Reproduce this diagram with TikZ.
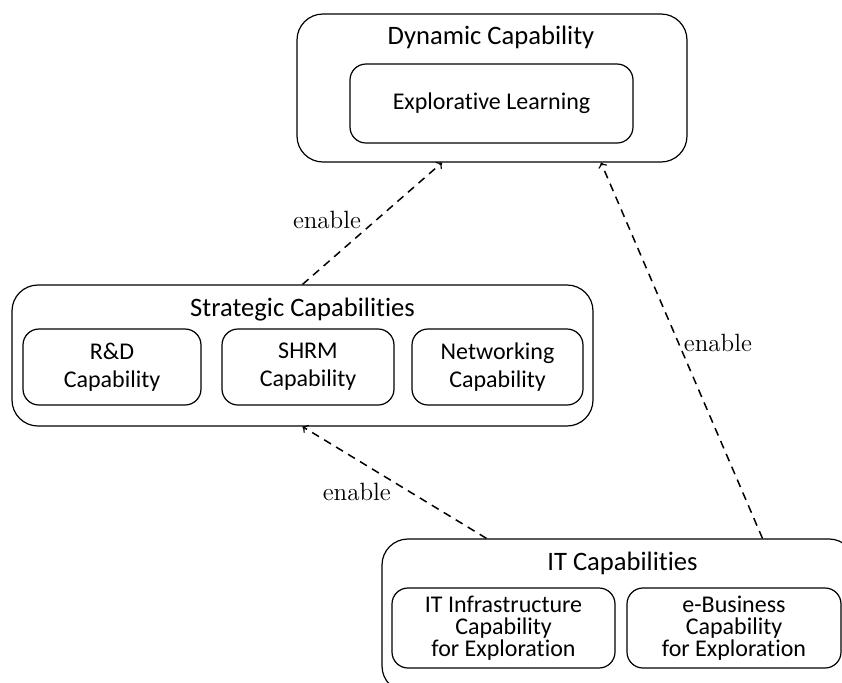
\documentclass[tikz,border=0pt]{standalone}
\usepackage{fontspec}
\newfontfamily\capfont[Ligatures=NoCommon]{Carlito}
\usetikzlibrary{arrows}

\tikzset{
  bigbox/.style={draw, line width=0.6pt, rounded corners=13pt, inner sep=0pt},
  smallbox/.style={draw, line width=0.6pt, rounded corners=8pt, align=center, inner sep=0pt, font=\capfont\fontsize{12}{14}\selectfont},
  itbox/.style={smallbox, font=\capfont\fontsize{12}{11}\selectfont},
  boxtitle/.style={font=\capfont\fontsize{13.3}{16}\selectfont},
  enablearrow/.style={->, line width=0.75pt, dash pattern=on 4pt off 3pt},
  enablelabel/.style={font=\fontsize{12.5}{15}\selectfont}
}

\begin{document}
\begin{tikzpicture}[x=0.5pt, y=-0.5pt]
  \useasboundingbox (0,0) rectangle (842,682);
  % dynamic capability
  \node[bigbox, minimum width=195pt, minimum height=74pt] (dyn) at (492,88) {};
  \node[boxtitle] (dyntitle) at (491,37) {Dynamic Capability};
  \node[smallbox, minimum width=141.5pt, minimum height=39.5pt] (explore) at (491.5,103.5) {Explorative Learning};
  % strategic capabilities
  \node[bigbox, minimum width=290.5pt, minimum height=70.5pt] (strat) at (302.5,355.5) {};
  \node[boxtitle] (strattitle) at (302.5,310) {Strategic Capabilities};
  \node[smallbox, minimum width=89pt, minimum height=38pt] (rnd) at (112,367) {R\&D\\Capability};
  \node[smallbox, minimum width=86pt, minimum height=38pt] (shrm) at (308,367) {SHRM\\Capability};
  \node[smallbox, minimum width=85.5pt, minimum height=38pt] (network) at (497.5,367) {Networking\\Capability};
  % IT capabilities
  \node[bigbox, minimum width=236.5pt, minimum height=76.5pt] (it) at (618.5,615.5) {};
  \node[boxtitle] (ittitle) at (622.5,563) {IT Capabilities};
  \node[itbox, minimum width=111.5pt, minimum height=40pt] (itinfra) at (503.5,628) {IT Infrastructure\\Capability\\for Exploration};
  \node[itbox, minimum width=107pt, minimum height=40pt] (ebiz) at (734,628) {e-Business\\Capability\\for Exploration};
  % enable arrows
  \draw[enablearrow] (strat.north) -- ([xshift=-25pt]dyn.south) node[enablelabel, pos=0.53, left=4pt] (enable1) {enable};
  \draw[enablearrow] ([xshift=-66pt]it.north) -- (strat.south) node[enablelabel, pos=0.42, left=5.5pt] (enable2) {enable};
  \draw[enablearrow] ([xshift=72pt]it.north) -- ([xshift=54.5pt]dyn.south) node[enablelabel, pos=0.52, right=-1pt] (enable3) {enable};
\end{tikzpicture}
\end{document}
